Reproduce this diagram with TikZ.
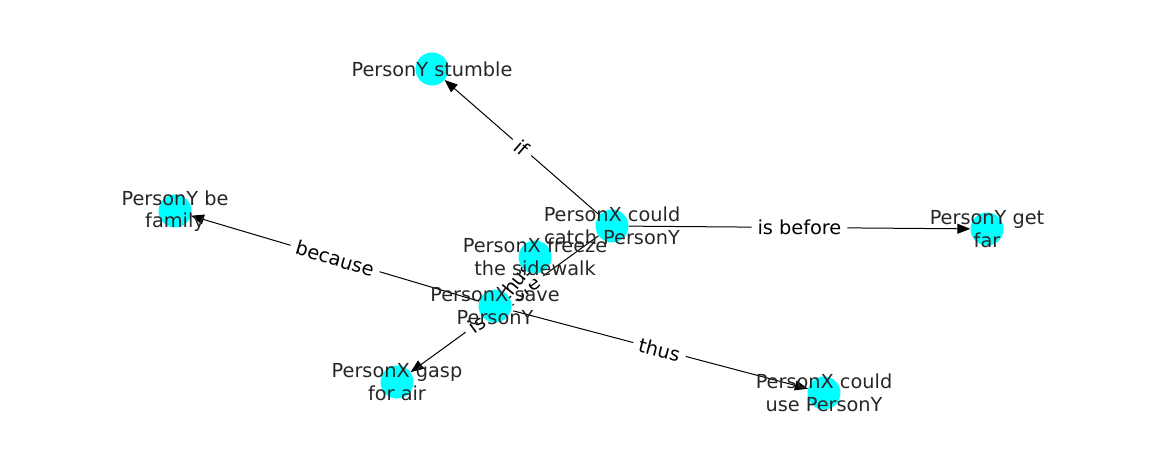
\documentclass[tikz,border=0pt]{standalone}
\usepackage{fontspec}
\setmainfont{DejaVu Sans}
\usetikzlibrary{arrows.meta}
\definecolor{nodecyan}{RGB}{0,255,255}

\begin{document}
\begin{tikzpicture}[x=1pt,y=-1pt,>={Triangle[length=13pt,width=10pt]},
		spot/.style={circle,minimum size=33pt,inner sep=0pt},
		dot/.style={spot,fill=nodecyan},
		lbl/.style={align=center,font=\fontsize{19.3}{22.5}\selectfont,text=black!85},
		edge/.style={->,line width=1pt},
		elbl/.style={sloped,fill=white,inner xsep=6pt,inner ysep=3pt,font=\fontsize{19.3}{22.5}\selectfont}]
			\useasboundingbox (0,0) rectangle (1162,462);
			% node places
			\node[spot] (stumble) at (432,69) {};
			\node[spot] (catch) at (612,226) {};
			\node[spot] (getfar) at (987,229) {};
			\node[spot] (family) at (175,211) {};
			\node[spot] (freeze) at (535,257) {};
			\node[spot] (save) at (495,306) {};
			\node[spot] (gasp) at (397,382) {};
			\node[spot] (use) at (824,393) {};
			% edges
			\draw[edge] (catch) -- node[elbl] {if} (stumble);
			\draw[edge] (catch) -- node[elbl] {is before} (getfar);
			\draw[edge] (save) -- node[elbl] {because} (family);
			\draw[edge] (save) -- node[elbl] {thus} (use);
			\draw[edge] (catch) -- node[elbl] {is before} (gasp);
			\draw[edge] (save) -- node[elbl,inner xsep=9pt,inner ysep=5pt] {thus} (freeze);
			% circles
			\foreach \n in {stumble,catch,getfar,family,freeze,save,gasp,use}
				\node[dot] at (\n) {};
			% node texts
			\node[lbl] (stumbletxt) at (stumble) {PersonY stumble};
			\node[lbl] (catchtxt) at (catch) {PersonX could\\catch PersonY};
			\node[lbl] (getfartxt) at (getfar) {PersonY get\\far};
			\node[lbl] (familytxt) at (family) {PersonY be\\family};
			\node[lbl] (freezetxt) at (freeze) {PersonX freeze\\the sidewalk};
			\node[lbl] (savetxt) at (save) {PersonX save\\PersonY};
			\node[lbl] (gasptxt) at (gasp) {PersonX gasp\\for air};
			\node[lbl] (usetxt) at (use) {PersonX could\\use PersonY};
		\end{tikzpicture}
\end{document}
